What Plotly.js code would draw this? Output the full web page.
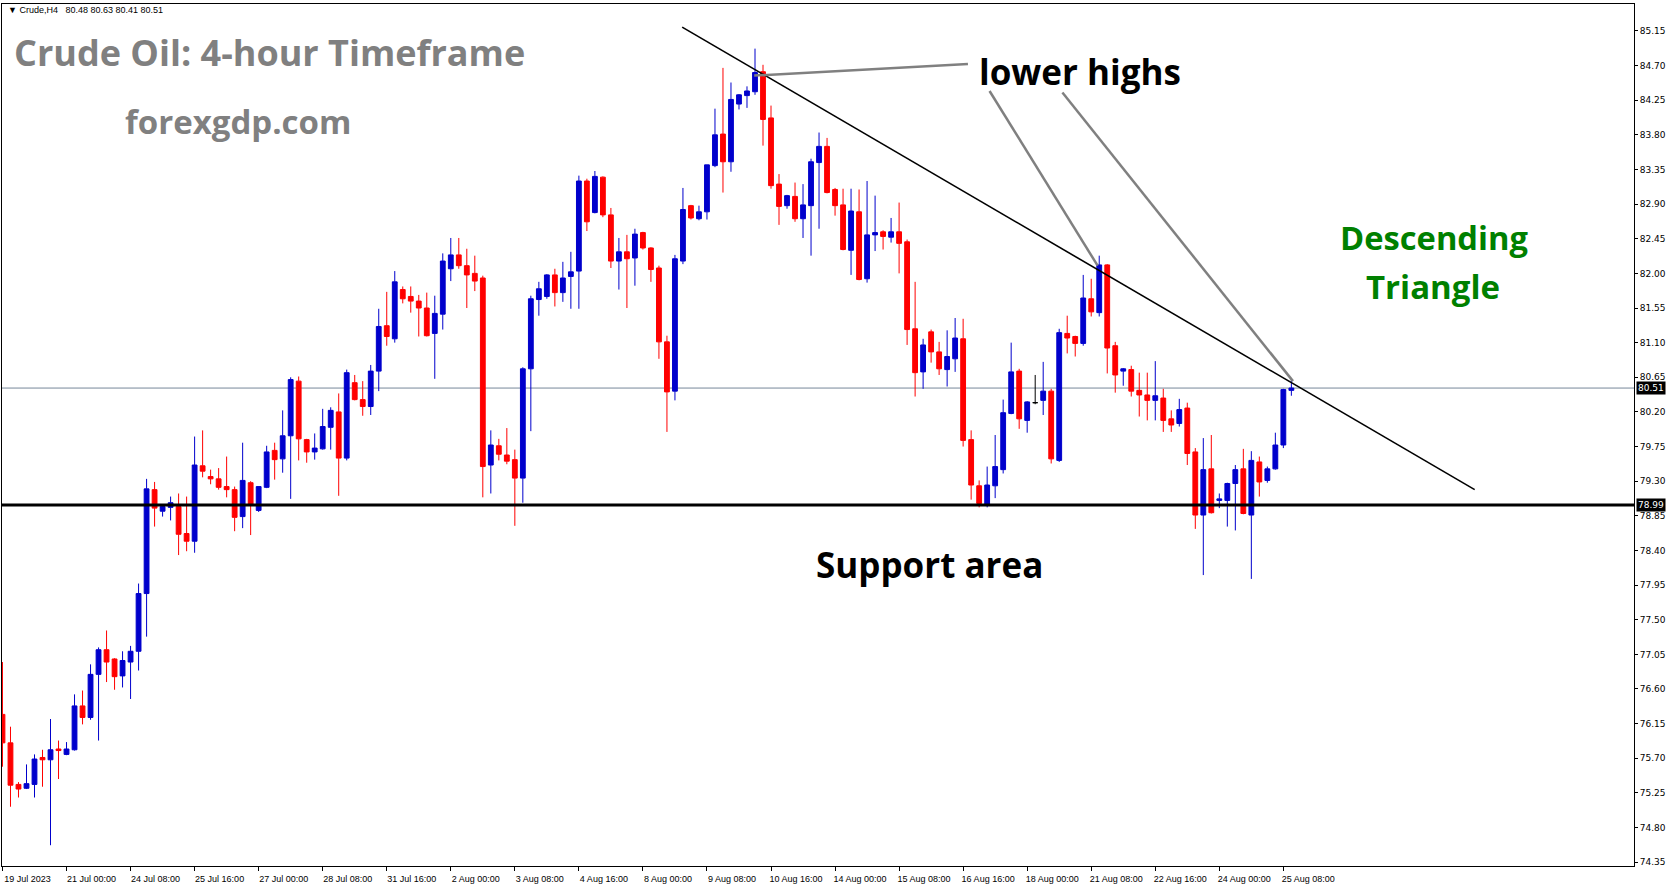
<!DOCTYPE html>
<html>
<head>
<meta charset="utf-8">
<script src="https://cdn.plot.ly/plotly-3.0.1.min.js"></script>
<style>
html,body{margin:0;padding:0;background:#ffffff;}
#chart{width:1673px;height:888px;}
</style>
</head>
<body>
<div id="chart"></div>
<script>
// ---- data (Crude, H4) ----
const openP = [76.27,75.90,75.36,75.31,75.36,75.71,75.68,75.82,75.75,75.81,
 76.38,76.23,76.79,77.11,76.99,76.77,76.95,77.09,77.84,79.19,
 78.91,78.96,78.97,78.62,78.52,79.50,79.36,79.33,79.23,79.19,
 78.84,79.28,78.92,79.22,79.70,79.59,79.89,80.60,79.84,79.68,
 79.72,80.00,80.20,79.60,80.58,80.36,80.27,80.73,81.32,81.15,
 81.79,81.70,81.64,81.55,81.22,81.47,82.06,82.24,82.10,82.00,
 81.94,79.51,79.76,79.64,79.58,79.34,80.76,81.66,81.70,81.98,
 81.75,81.96,82.03,83.20,82.79,83.25,82.76,82.16,82.28,82.20,
 82.53,82.33,82.07,81.11,80.47,82.16,82.88,82.71,82.80,83.40,
 83.81,83.45,84.20,84.31,84.36,84.62,84.02,83.16,82.88,83.00,
 82.71,82.88,83.44,83.65,83.09,82.89,82.30,82.80,81.93,82.50,
 82.54,82.47,82.54,82.41,81.28,80.72,81.24,80.98,80.75,80.89,
 81.15,79.84,79.24,79.00,79.24,79.45,80.18,80.73,80.09,80.32,
 80.35,80.47,79.57,81.22,81.18,81.09,81.67,81.49,82.11,81.06,
 80.73,80.75,80.48,80.42,80.35,80.38,80.11,80.05,80.25,79.68,
 78.86,79.46,79.05,79.05,79.27,79.46,78.86,79.55,79.31,79.46,
 79.77,80.48];
const highP = [76.95,76.11,75.39,75.62,75.75,75.81,76.21,75.93,75.91,76.53,
 76.58,76.92,77.14,77.36,77.00,77.09,77.16,77.97,79.33,79.29,
 79.00,79.10,79.14,79.10,79.88,79.96,79.45,79.47,79.62,79.23,
 79.80,79.30,79.23,79.76,79.80,80.22,80.65,80.66,79.85,79.92,
 80.24,80.26,80.44,80.75,80.68,80.60,80.81,81.54,81.76,82.03,
 81.83,81.83,81.72,81.75,81.71,82.26,82.46,82.46,82.32,82.23,
 81.97,79.96,79.85,79.99,79.71,80.78,81.71,81.89,81.99,82.06,
 82.15,82.28,83.27,83.23,83.33,83.26,82.85,82.46,82.50,82.58,
 82.54,82.34,82.10,81.19,82.24,83.11,82.89,82.88,83.41,84.14,
 84.67,84.48,84.33,84.43,84.92,84.71,84.18,83.29,83.02,83.18,
 83.16,83.49,83.83,83.76,83.11,83.10,83.10,83.09,83.20,83.01,
 82.56,82.72,82.92,82.44,81.89,81.15,81.27,81.11,81.26,81.42,
 81.41,79.96,79.31,79.49,79.90,80.36,81.10,80.76,80.34,80.68,
 80.85,80.50,81.28,81.45,81.19,81.98,81.93,82.23,82.12,81.11,
 80.77,80.80,80.71,80.71,80.86,80.50,80.22,80.37,80.32,79.73,
 79.86,79.90,79.14,79.28,79.51,79.72,79.69,79.62,79.49,79.93,
 80.50,80.63];
const lowP = [75.59,75.07,75.19,75.30,75.19,75.33,74.57,75.43,75.74,75.80,
 76.14,76.20,75.93,76.69,76.59,76.62,76.47,76.84,77.28,78.71,
 78.84,78.79,78.34,78.39,78.37,79.35,79.26,79.19,79.09,78.65,
 78.69,78.60,78.90,79.21,79.32,79.41,79.07,79.57,79.54,79.58,
 79.71,79.71,79.11,79.57,80.35,80.15,80.16,80.47,81.06,81.10,
 81.61,81.49,81.18,81.18,80.63,81.27,81.90,82.06,81.55,81.77,
 79.09,79.14,79.57,79.52,78.72,79.02,79.95,81.45,81.67,81.57,
 81.63,81.54,81.54,82.55,82.78,82.73,82.07,81.79,81.55,81.84,
 82.31,81.89,80.89,79.94,80.35,82.12,82.70,82.69,82.70,83.38,
 83.05,83.32,84.13,84.15,84.32,83.66,83.10,82.63,82.84,82.67,
 82.46,82.23,82.58,83.04,82.75,82.30,81.98,81.91,81.88,82.29,
 82.31,82.40,82.00,81.07,80.40,80.50,80.84,80.68,80.53,80.72,
 79.75,79.06,78.96,78.96,79.08,79.40,80.17,79.98,79.93,80.30,
 80.16,79.53,79.55,80.96,80.92,81.06,81.44,81.44,80.70,80.45,
 80.54,80.40,80.14,80.09,80.09,79.94,79.94,80.01,79.51,78.68,
 78.08,78.88,78.95,78.71,78.66,78.87,78.03,79.10,79.28,79.45,
 79.73,80.41];
const closeP = [75.90,75.35,75.30,75.37,75.69,75.68,75.81,75.80,75.82,76.38,
 76.23,76.79,77.11,76.95,76.76,76.97,77.09,77.84,79.20,78.95,
 78.97,79.02,78.61,78.52,79.51,79.43,79.33,79.22,79.19,78.83,
 79.31,78.99,79.23,79.68,79.58,79.89,80.62,79.85,79.68,79.73,
 80.01,80.22,79.60,80.71,80.36,80.27,80.73,81.31,81.18,81.89,
 81.67,81.64,81.55,81.19,81.48,82.16,82.24,82.10,81.98,81.90,
 79.49,79.77,79.65,79.56,79.34,80.76,81.67,81.80,81.98,81.75,
 81.94,82.02,83.20,82.67,83.26,82.76,82.16,82.28,82.19,82.51,
 82.33,82.05,81.11,80.46,82.19,82.83,82.72,82.80,83.41,83.80,
 83.45,84.26,84.32,84.37,84.61,84.00,83.14,82.87,83.01,82.71,
 82.89,83.45,83.65,83.05,82.88,82.31,82.81,81.92,82.50,82.53,
 82.48,82.54,82.39,81.27,80.71,81.07,80.98,80.76,80.92,81.16,
 79.83,79.25,79.01,79.25,79.49,80.19,80.72,80.11,80.33,80.32,
 80.47,79.59,81.23,81.16,81.09,81.68,81.50,82.11,81.03,80.68,
 80.76,80.47,80.42,80.35,80.41,80.09,80.03,80.23,79.66,78.86,
 79.45,78.89,79.07,79.27,79.45,78.88,79.57,79.29,79.46,79.77,
 80.49,80.51];

const tickIdx = [0,8,16,24,32,40,48,56,64,72,80,88,96,104,112,120,128,136,144,152,160];
const tickLabels = ['19 Jul 2023','21 Jul 00:00','24 Jul 08:00','25 Jul 16:00','27 Jul 00:00',
 '28 Jul 08:00','31 Jul 16:00','2 Aug 00:00','3 Aug 08:00','4 Aug 16:00','8 Aug 00:00',
 '9 Aug 08:00','10 Aug 16:00','14 Aug 00:00','15 Aug 08:00','16 Aug 16:00','18 Aug 00:00',
 '21 Aug 08:00','22 Aug 16:00','24 Aug 00:00','25 Aug 08:00'];
const priceTicks = [74.35,74.80,75.25,75.70,76.15,76.60,77.05,77.50,77.95,78.40,78.85,79.30,
 79.75,80.20,80.65,81.10,81.55,82.00,82.45,82.90,83.35,83.80,84.25,84.70,85.15];

const supportLevel = 78.99;
const lastPrice = 80.51;
// drawn objects (candle index, price)
const trendX = [84.9, 183.9];
const trendY = [85.20, 79.19];
const highLinkX = [93.9, 120.6];
const highLinkY = [84.57, 84.72];
const diag1X = [123.3, 136.8];
const diag1Y = [84.37, 82.10];
const diag2X = [132.4, 161.2];
const diag2Y = [84.35, 80.60];

// ---- build traces ----
const idx = openP.map((_, i) => i);
const normal = idx.filter(i => openP[i] !== closeP[i]);
const doji = idx.filter(i => openP[i] === closeP[i]);
const pick = (arr, sel) => sel.map(i => arr[i]);

const mainTrace = {
  type: 'candlestick',
  x: normal, open: pick(openP, normal), high: pick(highP, normal),
  low: pick(lowP, normal), close: pick(closeP, normal),
  increasing: {line: {color: '#0000CC', width: 1}, fillcolor: '#0000CC'},
  decreasing: {line: {color: '#FF0000', width: 1}, fillcolor: '#FF0000'},
  whiskerwidth: 0, hoverinfo: 'skip', showlegend: false
};
const dojiTrace = {
  type: 'candlestick',
  x: doji, open: pick(openP, doji), high: pick(highP, doji),
  low: pick(lowP, doji), close: pick(closeP, doji),
  increasing: {line: {color: '#000000', width: 1}, fillcolor: '#000000'},
  decreasing: {line: {color: '#000000', width: 1}, fillcolor: '#000000'},
  whiskerwidth: 0, hoverinfo: 'skip', showlegend: false
};

// ---- layout ----
const W = 1673, H = 888, mL = 2, mR = 39, mT = 4, mB = 22;
const px = x => (x - mL) / (W - mL - mR);
const py = y => 1 - (y - mT) / (H - mT - mB);
const txtFont = (size, color) => ({family: '"Open Sans", Lato, sans-serif', size: size, color: color, weight: 'bold'});

const annotations = [
  {xref:'paper', yref:'paper', x: px(6), y: py(10), xanchor:'left', yanchor:'middle', showarrow:false,
   text:'\u25BC Crude,H4\u00a0\u00a0 80.48 80.63 80.41 80.51', font:{family:'"Liberation Sans", Arial, sans-serif', size:9, color:'#000'}},
  {xref:'paper', yref:'paper', x: px(12), y: py(53), xanchor:'left', yanchor:'middle', showarrow:false,
   text:'Crude Oil: 4-hour Timeframe', font: txtFont(36, '#808080')},
  {xref:'paper', yref:'paper', x: px(123), y: py(121), xanchor:'left', yanchor:'middle', showarrow:false,
   text:'forexgdp.com', font: txtFont(33, '#808080')},
  {xref:'paper', yref:'paper', x: px(1080), y: py(71), xanchor:'center', yanchor:'middle', showarrow:false,
   text:'lower highs', font: txtFont(35, '#000000')},
  {xref:'paper', yref:'paper', x: px(929), y: py(564), xanchor:'center', yanchor:'middle', showarrow:false,
   text:'Support area', font: txtFont(35, '#000000')},
  {xref:'paper', yref:'paper', x: px(1434), y: py(237), xanchor:'center', yanchor:'middle', showarrow:false,
   text:'Descending', font: txtFont(32.7, '#008000')},
  {xref:'paper', yref:'paper', x: px(1433), y: py(286), xanchor:'center', yanchor:'middle', showarrow:false,
   text:'Triangle', font: txtFont(33, '#008000')},
  {xref:'paper', yref:'y', x: 1, y: lastPrice, xanchor:'left', yanchor:'middle', xshift: 2, showarrow:false,
   text: lastPrice.toFixed(2), bgcolor:'#000000', borderpad:1,
   font:{family:'"DejaVu Sans", sans-serif', size:9, color:'#ffffff'}},
  {xref:'paper', yref:'y', x: 1, y: supportLevel, xanchor:'left', yanchor:'middle', xshift: 2, showarrow:false,
   text: supportLevel.toFixed(2), bgcolor:'#000000', borderpad:1,
   font:{family:'"DejaVu Sans", sans-serif', size:9, color:'#ffffff'}}
];

const shapes = [
  {type:'line', xref:'paper', yref:'y', x0:0, x1:1, y0:lastPrice, y1:lastPrice,
   line:{color:'#778899', width:1}, layer:'below'},
  {type:'line', xref:'paper', yref:'y', x0:0, x1:1, y0:supportLevel, y1:supportLevel,
   line:{color:'#000000', width:3}, layer:'above'},
  {type:'line', xref:'x', yref:'y', x0:trendX[0], x1:trendX[1], y0:trendY[0], y1:trendY[1],
   line:{color:'#000000', width:1.6}, layer:'above'},
  {type:'line', xref:'x', yref:'y', x0:highLinkX[0], x1:highLinkX[1], y0:highLinkY[0], y1:highLinkY[1],
   line:{color:'#808080', width:2.5}, layer:'above'},
  {type:'line', xref:'x', yref:'y', x0:diag1X[0], x1:diag1X[1], y0:diag1Y[0], y1:diag1Y[1],
   line:{color:'#808080', width:2.5}, layer:'above'},
  {type:'line', xref:'x', yref:'y', x0:diag2X[0], x1:diag2X[1], y0:diag2Y[0], y1:diag2Y[1],
   line:{color:'#808080', width:2.5}, layer:'above'}
];

const layout = {
  width: W, height: H,
  margin: {l: mL, r: mR, t: mT, b: mB, pad: 0},
  paper_bgcolor: '#ffffff', plot_bgcolor: '#ffffff',
  showlegend: false,
  boxgap: 0.4, boxgroupgap: 0,
  xaxis: {
    type: 'linear', range: [-0.06, 203.8], rangeslider: {visible: false},
    tickmode: 'array', tickvals: tickIdx, ticktext: tickLabels,
    ticks: 'outside', ticklen: 4, tickcolor: '#000', tickwidth: 1,
    ticklabelshift: 25, ticklabelstandoff: 0,
    tickfont: {family: '"Liberation Sans", Arial, sans-serif', size: 9, color: '#000'},
    showgrid: false, zeroline: false, showline: true, mirror: true, linecolor: '#000', linewidth: 1,
    fixedrange: true
  },
  yaxis: {
    side: 'right', range: [74.30, 85.50],
    tickmode: 'array', tickvals: priceTicks, ticktext: priceTicks.map(v => v.toFixed(2)),
    ticks: 'outside', ticklen: 3, tickcolor: '#000', tickwidth: 1,
    tickfont: {family: '"DejaVu Sans", sans-serif', size: 9, color: '#000'},
    showgrid: false, zeroline: false, showline: true, mirror: true, linecolor: '#000', linewidth: 1,
    fixedrange: true
  },
  annotations: annotations,
  shapes: shapes
};

Plotly.newPlot('chart', [mainTrace, dojiTrace], layout, {staticPlot: true, displayModeBar: false});
</script>
</body>
</html>
